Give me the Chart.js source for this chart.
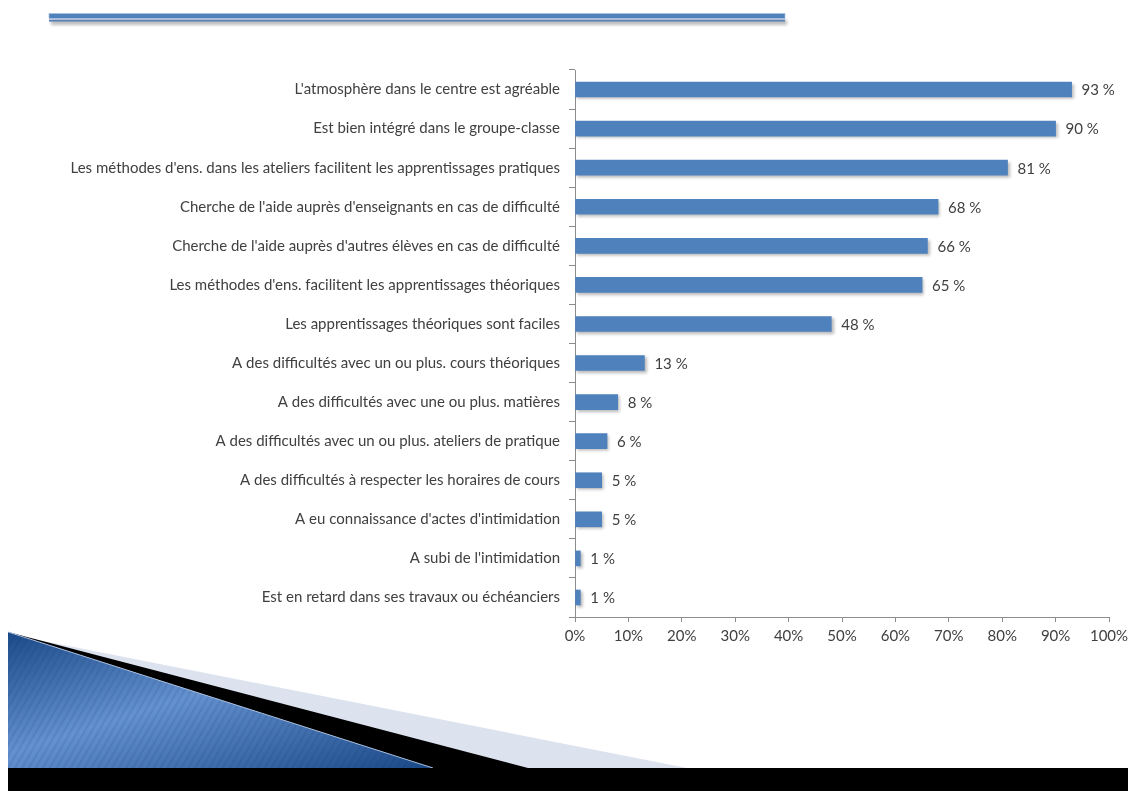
<!DOCTYPE html>
<html><head><meta charset="utf-8">
<script src="https://cdn.jsdelivr.net/npm/chart.js@4.4.1/dist/chart.umd.min.js"></script>
<style>
html,body{margin:0;padding:0;background:#fff;}
#wrap{position:relative;width:1128px;height:791px;overflow:hidden;background:#fff;}
svg,canvas{position:absolute;left:0;top:0;}
</style></head><body>
<div id="wrap">
<svg width="1128" height="791" xmlns="http://www.w3.org/2000/svg">
  <defs>
    <filter id="blur" x="-5%" y="-200%" width="110%" height="500%"><feGaussianBlur stdDeviation="1.6"/></filter>
    <linearGradient id="bg" x1="0" y1="0" x2="1" y2="1">
      <stop offset="0" stop-color="#1B4A89"/>
      <stop offset="0.45" stop-color="#6491CF"/>
      <stop offset="1" stop-color="#1A4887"/>
    </linearGradient>
    <pattern id="stripes" width="6" height="6" patternUnits="userSpaceOnUse" patternTransform="rotate(30)">
      <rect x="0" y="0" width="2" height="6" fill="#0b2a5a" fill-opacity="0.10"/>
    </pattern>
  </defs>
  <!-- top rule -->
  <rect x="51" y="20" width="736" height="5" fill="#888" opacity="0.55" filter="url(#blur)"/>
  <rect x="49" y="13.5" width="736" height="5" fill="#4F81BD" stroke="#A9C0DF" stroke-width="0.7"/>
  <rect x="49" y="19.6" width="736" height="2" fill="#5B80B7"/>
  <!-- bottom-left decoration -->
  <polygon points="8,634 687,768 8,768" fill="#DCE3EF"/>
  <polygon points="8,632 528,768 8,768" fill="#000"/>
  <polygon points="8,632 433,768 8,768" fill="url(#bg)"/>
  <polygon points="8,632 433,768 8,768" fill="url(#stripes)"/>
  <line x1="8" y1="632" x2="433" y2="768" stroke="#A9C0E0" stroke-width="1"/>
  <rect x="8" y="768" width="1120" height="23" fill="#000"/>
</svg>
<canvas id="c" width="1128" height="791"></canvas>
</div>
<script>
const categories = [
  "L'atmosphère dans le centre est agréable",
  "Est bien intégré dans le groupe-classe",
  "Les méthodes d'ens. dans les ateliers facilitent les apprentissages pratiques",
  "Cherche de l'aide auprès d'enseignants en cas de difficulté",
  "Cherche de l'aide auprès d'autres élèves en cas de difficulté",
  "Les méthodes d'ens. facilitent les apprentissages théoriques",
  "Les apprentissages théoriques sont faciles",
  "A des difficultés avec un ou plus. cours théoriques",
  "A des difficultés avec une ou plus. matières",
  "A des difficultés avec un ou plus. ateliers de pratique",
  "A des difficultés à respecter les horaires de cours",
  "A eu connaissance d'actes d'intimidation",
  "A subi de l'intimidation",
  "Est en retard dans ses travaux ou échéanciers"
];
const values = [93, 90, 81, 68, 66, 65, 48, 13, 8, 6, 5, 5, 1, 1];
const xTickValues = [0, 10, 20, 30, 40, 50, 60, 70, 80, 90, 100];

const FONT = "Lato, 'Liberation Sans', sans-serif";
const TXT = '#404040';

const barDeco = {
  id: 'barDeco',
  beforeDatasetsDraw(chart) {
    const ctx = chart.ctx;
    ctx.save();
    ctx.shadowColor = 'rgba(0,0,0,0.28)';
    ctx.shadowBlur = 3;
    ctx.shadowOffsetX = 2;
    ctx.shadowOffsetY = 2;
  },
  afterDatasetsDraw(chart) {
    const ctx = chart.ctx;
    ctx.restore();
    ctx.save();
    ctx.font = "15px " + FONT;
    ctx.fillStyle = TXT;
    ctx.textBaseline = 'middle';
    ctx.textAlign = 'left';
    const meta = chart.getDatasetMeta(0);
    meta.data.forEach((el, i) => {
      ctx.fillText(values[i] + ' %', el.x + 10, el.y + 1);
    });
    ctx.restore();
  }
};

new Chart(document.getElementById('c'), {
  type: 'bar',
  data: {
    labels: categories,
    datasets: [{
      data: values,
      backgroundColor: '#4F81BD',
      borderWidth: 0,
      barThickness: 15
    }]
  },
  options: {
    indexAxis: 'y',
    responsive: false,
    animation: false,
    layout: { padding: { left: 0, right: 19, top: 70, bottom: 144 } },
    plugins: { legend: { display: false }, tooltip: { enabled: false } },
    scales: {
      x: {
        type: 'linear',
        min: 0, max: 100,
        afterBuildTicks: s => { s.ticks = xTickValues.map(v => ({ value: v })); },
        ticks: { callback: v => v + '%', color: TXT, font: { family: FONT, size: 15 }, padding: 5, maxRotation: 0 },
        grid: { drawOnChartArea: false, tickLength: 5, color: '#8C8C8C' },
        border: { color: '#8C8C8C' },
        afterFit: s => { s.height = 30; s.paddingLeft = 0; s.paddingRight = 0; }
      },
      y: {
        type: 'category',
        ticks: { color: TXT, font: { family: FONT, size: 15 }, padding: 9, autoSkip: false },
        grid: { offset: true, drawOnChartArea: false, tickLength: 6, color: '#8C8C8C' },
        border: { color: '#8C8C8C' },
        afterFit: s => { s.width = 575; s.paddingTop = 0; s.paddingBottom = 0; }
      }
    }
  },
  plugins: [barDeco]
});
</script>
</body></html>
